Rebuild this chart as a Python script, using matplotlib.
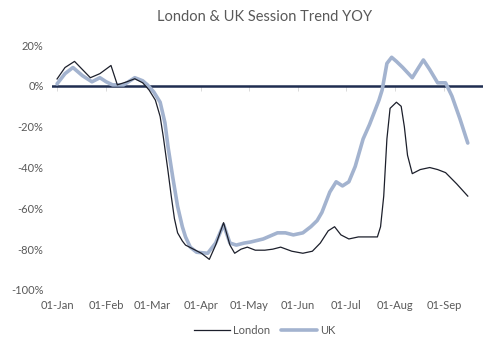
import matplotlib
matplotlib.use("Agg")
import matplotlib.pyplot as plt
import matplotlib.dates as mdates
import matplotlib.ticker as mtick
import numpy as np
import pandas as pd

# day offsets from 01-Jan-2020 and YOY session change (%)
london_days = [0, 5, 11, 16, 21, 27, 34, 38, 44, 49, 54, 58, 62, 65, 67, 70, 72, 74, 76, 79,
               81, 86, 91, 96, 100, 105, 109, 112, 116, 120, 125, 131, 136, 141, 148, 155, 161,
               166, 171, 175, 179, 184, 190, 196, 202, 204, 206, 208, 210, 214, 217, 219, 221,
               224, 229, 235, 240, 245, 252, 259]
london_vals = [3.4, 9, 12, 8, 4, 6, 10, 0.5, 2, 3.5, 1.5, -2, -7, -15, -25, -42, -54, -65, -72, -76,
               -78, -80, -82, -85, -78, -67, -78, -82, -80, -79, -80.5, -80.5, -80, -79, -81, -82, -81,
               -77, -71, -69, -73, -75, -74, -74, -74, -69, -54, -26, -11, -8, -10, -20, -34,
               -43, -41, -40, -41, -42.5, -48, -54]

uk_days = [0, 5, 10, 16, 22, 27, 31, 35, 42, 49, 54, 57, 61, 65, 68, 70, 73, 76, 79, 81,
           84, 88, 95, 100, 105, 109, 113, 118, 122, 130, 139, 144, 149, 155, 160, 164, 167,
           172, 176, 180, 184, 188, 193, 197, 200, 203, 205, 208, 211, 214, 218, 224, 228,
           231, 235, 240, 245, 249, 254, 259]
uk_vals = [1, 6, 9, 5, 2, 4, 2, 0.5, 0.5, 4, 2.5, 0.5, -3, -8, -18, -30, -45, -59, -69, -74,
           -79, -81.5, -82, -77, -68, -77, -78, -77, -76.5, -75, -72, -72, -73, -72, -69, -66, -62,
           -52, -47, -49, -47, -39.5, -26, -19, -13, -7, -2, 11, 14, 12, 9, 4, 9,
           12.7, 8, 1.5, 1.5, -5, -16, -28]

start = pd.Timestamp("2020-01-01")
london_dates = start + pd.to_timedelta(london_days, unit="D")
uk_dates = start + pd.to_timedelta(uk_days, unit="D")

month_ticks = pd.date_range("2020-01-01", "2020-09-01", freq="MS")

txt = "#595959"
plt.rcParams["font.family"] = ["Lato", "DejaVu Sans"]

fig = plt.figure(figsize=(5, 3.44), dpi=100)
ax = fig.add_axes([0.104, 0.157, 0.862, 0.712])

# zero line with small month ticks like excel
ax.axhline(0, color="#1f2d50", lw=1.8, zorder=1)
ax.vlines(month_ticks, -2.5, 0, color="#d4d4d4", lw=0.6, zorder=0)
ax.plot(uk_dates, uk_vals, color="#a3b3cf", lw=2.6, label="UK",
        solid_joinstyle="round", solid_capstyle="round", zorder=2)
ax.plot(london_dates, london_vals, color="#1c1f2b", lw=0.9, label="London",
        solid_joinstyle="round", zorder=3)

ax.set_ylim(-100, 20)
ax.set_yticks(np.arange(-100, 21, 20))
ax.yaxis.set_major_formatter(mtick.FuncFormatter(lambda v, p: f"{v:.0f}%"))
ax.set_xlim(start - pd.Timedelta(days=3.2), start + pd.Timedelta(days=268.6))
ax.set_xticks(month_ticks)
ax.xaxis.set_major_formatter(mdates.DateFormatter("%d-%b"))

for s in ax.spines.values():
    s.set_visible(False)
ax.tick_params(length=0, colors=txt, labelsize=8)
ax.tick_params(axis="x", pad=7)
ax.tick_params(axis="y", pad=6)

fig.text(0.53, 0.952, "London & UK Session Trend YOY", ha="center", va="center",
         fontsize=10.5, color=txt)

h, l = ax.get_legend_handles_labels()
fig.legend(h[::-1], l[::-1], loc="center", bbox_to_anchor=(0.53, 0.04), ncol=2,
           frameon=False, fontsize=8, labelcolor=txt, handlelength=3.2,
           handletextpad=0.3, columnspacing=1.0)

fig.savefig("out.png", dpi=100)
